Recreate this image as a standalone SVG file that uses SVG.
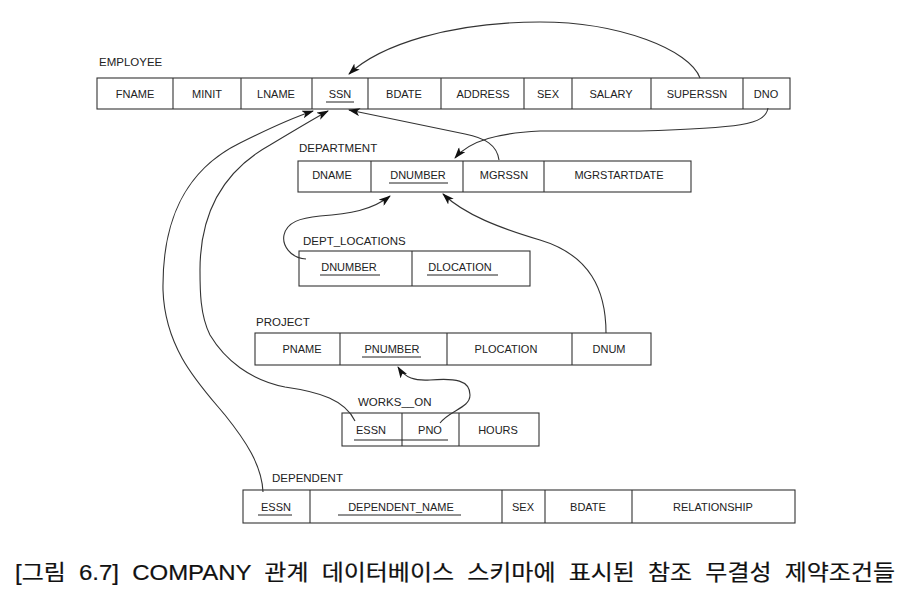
<svg xmlns="http://www.w3.org/2000/svg" width="914" height="604" viewBox="0 0 914 604">
<style>
.box{fill:#fff;stroke:#333;stroke-width:1.1}
.div{stroke:#333;stroke-width:1.1}
.t{font-family:"Liberation Sans",Arial,sans-serif;font-size:11px;fill:#222;text-anchor:middle}
.lbl{font-family:"Liberation Sans",Arial,sans-serif;font-size:11.5px;fill:#222}
.ul{stroke:#222;stroke-width:1}
.c{fill:none;stroke:#333;stroke-width:1.1;marker-end:url(#ah)}
.cap{font-family:"Liberation Sans","Noto Sans CJK KR",sans-serif;font-size:22px;fill:#111;stroke:#111;stroke-width:0.2;word-spacing:6px}
</style>
<defs>
<marker id="ah" viewBox="0 0 12 8" refX="11" refY="4" markerWidth="12" markerHeight="8" markerUnits="userSpaceOnUse" orient="auto">
<path d="M0,0 L12,4 L0,8 L3,4 Z" fill="#111"/>
</marker>
</defs>
<rect width="914" height="604" fill="#fff"/>

<g id="employee">
<text class="lbl" x="99" y="66">EMPLOYEE</text>
<rect class="box" x="97" y="78" width="693" height="31"/>
<path class="div" d="M173,78V109M241,78V109M312,78V109M368,78V109M441,78V109M524,78V109M572,78V109M651,78V109M743,78V109"/>
<text class="t" x="135" y="98">FNAME</text>
<text class="t" x="207" y="98">MINIT</text>
<text class="t" x="276" y="98">LNAME</text>
<text class="t" x="340" y="98">SSN</text>
<line class="ul" x1="326" y1="102" x2="354" y2="102"/>
<text class="t" x="404" y="98">BDATE</text>
<text class="t" x="483" y="98">ADDRESS</text>
<text class="t" x="548" y="98">SEX</text>
<text class="t" x="611" y="98">SALARY</text>
<text class="t" x="697" y="98">SUPERSSN</text>
<text class="t" x="766" y="98">DNO</text>
</g>

<g id="department">
<text class="lbl" x="299" y="152">DEPARTMENT</text>
<rect class="box" x="298" y="161" width="393" height="31"/>
<path class="div" d="M371,161V192M463,161V192M544,161V192"/>
<text class="t" x="332" y="179">DNAME</text>
<text class="t" x="418" y="179">DNUMBER</text>
<line class="ul" x1="389" y1="183" x2="448" y2="183"/>
<text class="t" x="504" y="179">MGRSSN</text>
<text class="t" x="619" y="179">MGRSTARTDATE</text>
</g>

<g id="dept_locations">
<text class="lbl" x="303" y="245">DEPT_LOCATIONS</text>
<rect class="box" x="299" y="251" width="231" height="35"/>
<path class="div" d="M412,251V286"/>
<text class="t" x="349" y="271">DNUMBER</text>
<line class="ul" x1="320" y1="275" x2="380" y2="275"/>
<text class="t" x="460" y="271">DLOCATION</text>
<line class="ul" x1="427" y1="275" x2="498" y2="275"/>
</g>

<g id="project">
<text class="lbl" x="256" y="326">PROJECT</text>
<rect class="box" x="255" y="333" width="396" height="32"/>
<path class="div" d="M340,333V365M447,333V365M572,333V365"/>
<text class="t" x="302" y="353">PNAME</text>
<text class="t" x="392" y="353">PNUMBER</text>
<line class="ul" x1="362" y1="357" x2="421" y2="357"/>
<text class="t" x="506" y="353">PLOCATION</text>
<text class="t" x="609" y="353">DNUM</text>
</g>

<g id="works_on">
<text class="lbl" x="358" y="406">WORKS__ON</text>
<rect class="box" x="342" y="413" width="197" height="33"/>
<path class="div" d="M402,413V446M459,413V446"/>
<text class="t" x="371" y="434">ESSN</text>
<text class="t" x="430" y="434">PNO</text>
<line class="ul" x1="354" y1="440" x2="448" y2="440"/>
<text class="t" x="498" y="434">HOURS</text>
</g>

<g id="dependent">
<text class="lbl" x="272" y="482">DEPENDENT</text>
<rect class="box" x="243" y="490" width="552" height="33"/>
<path class="div" d="M310,490V523M502,490V523M545,490V523M632,490V523"/>
<text class="t" x="276" y="511">ESSN</text>
<line class="ul" x1="258" y1="515" x2="292" y2="515"/>
<text class="t" x="401" y="511">DEPENDENT_NAME</text>
<line class="ul" x1="338" y1="515" x2="461" y2="515"/>
<text class="t" x="523" y="511">SEX</text>
<text class="t" x="588" y="511">BDATE</text>
<text class="t" x="713" y="511">RELATIONSHIP</text>
</g>

<g id="connectors">
<path class="c" d="M700,78 C690,50 620,22 540,22 C450,22 380,45 349,74"/>
<path class="c" d="M768,108 C765,125 740,128 640,131 L540,131 C500,133 470,140 455,158"/>
<path class="c" d="M499,160 C497,145 485,138 465,134 L349,110"/>
<path class="c" d="M306,259 C290,258 282,245 284,235 C287,222 300,218 320,216 C350,214 372,210 390,196"/>
<path class="c" d="M606,333 C606,290 590,255 540,240 C500,228 465,215 443,194"/>
<path class="c" d="M440,423 C450,410 470,408 470,395 C470,380 455,378 430,380 C415,381 405,378 398,367"/>
<path class="c" d="M355,421 C345,400 320,392 285,387 C250,380 225,360 210,335 C200,315 200,290 200,270 C200,210 225,170 270,145 C295,130 315,118 328,111"/>
<path class="c" d="M263,492 C262,465 245,440 225,415 C200,385 165,350 163,290 C162,220 185,170 240,143 C270,128 295,117 313,111"/>
</g>

<text class="cap" x="15" y="580" textLength="880" lengthAdjust="spacingAndGlyphs">[그림 6.7] COMPANY 관계 데이터베이스 스키마에 표시된 참조 무결성 제약조건들</text>
</svg>
